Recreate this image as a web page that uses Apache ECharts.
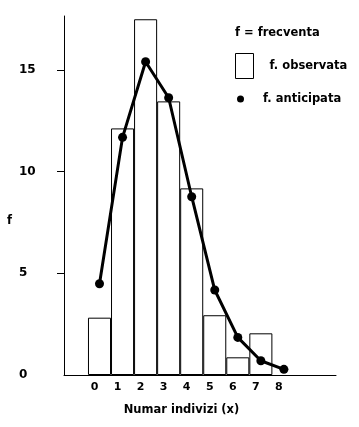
<!DOCTYPE html>
<html><head><meta charset="utf-8">
<script src="https://cdn.jsdelivr.net/npm/echarts@6/dist/echarts.min.js"></script>
<style>html,body{margin:0;padding:0;background:#fff}#c{width:359px;height:427px}</style>
</head><body><div id="c"></div>
<script>
// x categories (number of individuals)
const categories = [0, 1, 2, 3, 4, 5, 6, 7, 8];
// observed frequencies (bars)
const observed = [2.82, 12.13, 17.50, 13.46, 9.18, 2.94, 0.87, 2.05];
// anticipated frequencies (line + points)
const anticipated = [4.49, 11.69, 15.41, 13.64, 8.77, 4.18, 1.85, 0.70, 0.28];
// y-axis ticks / labels
const yTickValues = [5, 10, 15];
const yLabelValues = [0, 5, 10, 15];

const FONT = 'DejaVu Sans';
const txt = {fontFamily: FONT, fontWeight: 'bold', fontSize: 11.5, color: '#000'};

const chart = echarts.init(document.getElementById('c'), null, {renderer: 'canvas'});
chart.setOption({
  backgroundColor: '#fff',
  animation: false,
  title: {
    text: 'f = frecventa', left: 235, top: 27, padding: 0,
    textStyle: Object.assign({}, txt)
  },
  legend: [
    {
      data: ['f. observata'], left: 235, top: 53, padding: 0,
      icon: 'rect', itemWidth: 18, itemHeight: 25, selectedMode: false,
      itemStyle: {color: '#fff', borderColor: '#000', borderWidth: 1},
      textStyle: Object.assign({}, txt, {padding: [0, 0, 6, 11]})
    },
    {
      data: ['f. anticipata'], left: 237, top: 93, padding: 0,
      icon: 'circle', itemWidth: 7, itemHeight: 7, selectedMode: false,
      textStyle: Object.assign({}, txt, {padding: [0, 0, 1, 14]})
    }
  ],
  grid: {left: 64, top: 16, right: 23, bottom: 52, containLabel: false},
  xAxis: {
    type: 'value', min: -1.54, max: 10.26,
    name: 'Numar indivizi (x)', nameLocation: 'middle', nameGap: 29,
    nameTextStyle: Object.assign({}, txt, {padding: [0, 37, 0, 0]}),
    axisLine: {show: true, onZero: false, lineStyle: {color: '#000', width: 1}},
    axisTick: {show: false},
    splitLine: {show: false},
    axisLabel: Object.assign({}, txt, {fontSize: 11, customValues: categories, margin: 7, padding: [0, 10, 0, 0]})
  },
  yAxis: {
    type: 'value', min: 0, max: 17.66,
    name: 'f', nameLocation: 'middle', nameGap: 52, nameRotate: 0,
    nameTextStyle: Object.assign({}, txt, {verticalAlign: 'top', padding: [20, 0, 0, 0]}),
    axisLine: {show: true, onZero: false, lineStyle: {color: '#000', width: 1}},
    axisTick: {show: true, customValues: yTickValues, length: 7, lineStyle: {color: '#000'}},
    splitLine: {show: false},
    axisLabel: Object.assign({}, txt, {fontSize: 12, customValues: yLabelValues, margin: 45, align: 'left'})
  },
  series: [
    {
      name: 'f. observata', type: 'bar',
      data: observed.map((v, i) => [categories[i], v]),
      barCategoryGap: '0%',
      itemStyle: {color: '#fff', borderColor: '#000', borderWidth: 1},
      silent: true
    },
    {
      name: 'f. anticipata', type: 'line',
      data: anticipated.map((v, i) => [categories[i], v]),
      symbol: 'circle', symbolSize: 9, showSymbol: true,
      lineStyle: {color: '#000', width: 3},
      itemStyle: {color: '#000'},
      silent: true
    }
  ]
});
</script>
</body></html>
